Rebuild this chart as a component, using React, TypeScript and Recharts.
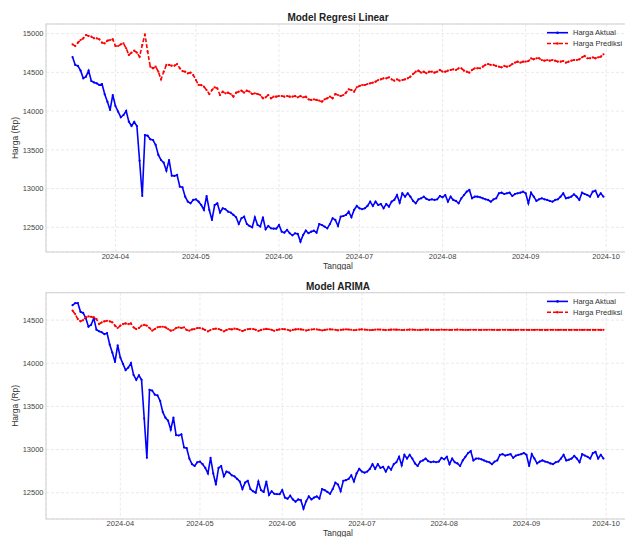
import React from 'react';
import { LineChart, Line, XAxis, YAxis, CartesianGrid } from 'recharts';

const FONT = '"Liberation Sans", Arial, Helvetica, sans-serif';

// ---- categories (dates) ----
const tanggalAwalArima = '2024-03-14';
const tanggalAwalRegresi = '2024-03-16';
const tickBulan = ['2024-04-01', '2024-05-01', '2024-06-01', '2024-07-01', '2024-08-01', '2024-09-01', '2024-10-01'];
const labelBulan = ['2024-04', '2024-05', '2024-06', '2024-07', '2024-08', '2024-09', '2024-10'];
const tickHargaRegresi = [12500, 13000, 13500, 14000, 14500, 15000];
const tickHargaArima = [12500, 13000, 13500, 14000, 14500];

// ---- series values (daily, from 2024-03-14 to 2024-09-30) ----
const hargaAktual = [
  14673, 14696,
  14698, 14596, 14583, 14522, 14423, 14445, 14522, 14389, 14370, 14359,
  14337, 14350, 14217, 14122, 14015, 14208, 14066, 13993, 13920, 13950,
  14002, 13864, 13808, 13860, 13808, 13360, 12904, 13692, 13683, 13636,
  13627, 13563, 13434, 13369, 13335, 13231, 13369, 13167, 13163, 13176,
  13025, 13016, 12896, 12831, 12810, 12853, 12861, 12831, 12788, 12724,
  12904, 12724, 12595, 12788, 12810, 12690, 12745, 12733, 12702, 12690,
  12660, 12630, 12543, 12617, 12638, 12543, 12517, 12500, 12630, 12530,
  12509, 12630, 12474, 12517, 12487, 12483, 12483, 12530, 12444, 12431,
  12466, 12423, 12397, 12423, 12414, 12315, 12401, 12457, 12423, 12444,
  12457, 12431, 12543,
  12530, 12509, 12487, 12543, 12617, 12595, 12517, 12638, 12646, 12660,
  12702, 12630, 12724, 12776, 12745, 12733, 12745, 12776, 12831, 12776,
  12831, 12788, 12801, 12745, 12801, 12767, 12831, 12853, 12917, 12818,
  12939, 12896, 12939, 12896, 12840, 12810, 12861, 12874, 12896, 12866,
  12853, 12861, 12853, 12861, 12904, 12887, 12917, 12831, 12896, 12853,
  12840, 12810, 12874, 12917, 12960, 12982, 12874, 12896, 12896, 12887,
  12874, 12861, 12853, 12831, 12861, 12874, 12939, 12947, 12930, 12939,
  12947, 12904, 12930, 12939, 12947, 12960, 12939, 12810, 12947, 12896,
  12840, 12861, 12874, 12861, 12853, 12840, 12831, 12853, 12861, 12896,
  12939, 12874, 12883, 12896, 12926, 12896, 12853, 12947, 12930, 12917,
  12896, 12960, 12973, 12896, 12939, 12896,
];

// Regresi Linear prediction (daily, from 2024-03-16)
const prediksiRegresi = [
  14862, 14841, 14884, 14918, 14940, 14983, 14970, 14961, 14940, 14940,
  14927, 14884, 14875, 14910, 14918, 14927, 14841, 14841, 14862, 14875,
  14811, 14725, 14755, 14781, 14755, 14703, 14854, 14991, 14768, 14574,
  14553, 14574, 14509, 14410, 14509, 14596, 14596, 14587, 14587, 14608,
  14553, 14518, 14509, 14488, 14497, 14466, 14402, 14337, 14337, 14316,
  14273, 14221, 14273, 14307, 14294, 14208, 14251, 14230, 14238, 14221,
  14187, 14238, 14251, 14264, 14238, 14264, 14251, 14221, 14230, 14221,
  14208, 14165, 14178, 14208, 14165, 14187, 14187, 14195, 14195, 14187,
  14195, 14187, 14187, 14195, 14178, 14195, 14178, 14187, 14152, 14144,
  14152, 14144, 14135,
  14122, 14152, 14165, 14187, 14165, 14221, 14208, 14195, 14208, 14238,
  14281, 14273, 14251, 14307, 14324, 14337, 14337, 14350, 14359, 14367,
  14380, 14402, 14410, 14423, 14423, 14436, 14410, 14393, 14410, 14393,
  14402, 14410, 14423, 14445, 14479, 14509, 14522, 14497, 14509, 14488,
  14509, 14509, 14497, 14509, 14531, 14509, 14509, 14522, 14531, 14540,
  14531, 14553, 14553, 14522, 14509, 14497, 14531, 14553, 14553, 14553,
  14574, 14596, 14608, 14596, 14596, 14583, 14574, 14565, 14583, 14574,
  14583, 14608, 14626, 14639, 14626, 14639, 14639, 14647, 14682, 14669,
  14682, 14682, 14660, 14651, 14660, 14651, 14660, 14651, 14639, 14639,
  14647, 14626, 14639, 14651, 14660, 14660, 14669, 14694, 14712, 14682,
  14682, 14694, 14682, 14694, 14703, 14733,
];

// ARIMA prediction (daily, from 2024-03-14)
const prediksiArima = [
  14610, 14569, 14512, 14485, 14500, 14531, 14542, 14538, 14531, 14512,
  14454, 14473, 14485, 14492, 14485, 14473, 14435, 14408, 14435, 14454,
  14462, 14454, 14462, 14416, 14396, 14408, 14435, 14446, 14435, 14408,
  14377, 14396, 14416, 14423, 14423, 14416, 14396, 14377, 14385, 14408,
  14416, 14408, 14416, 14385, 14377, 14392, 14396, 14408, 14408, 14400,
  14385, 14369, 14385, 14396, 14400, 14396, 14385, 14369, 14385, 14396,
  14392,
  14400, 14396, 14385, 14373, 14385, 14394, 14398,
  14396, 14388, 14374, 14386, 14393, 14397, 14394,
  14388, 14376, 14386, 14392, 14396, 14393, 14388,
  14377, 14386, 14392, 14395, 14392, 14388, 14379,
  14386, 14391, 14394, 14392, 14388, 14380, 14386,
  14391, 14393, 14391, 14388, 14381, 14386, 14390,
  14393, 14391, 14388, 14382, 14386, 14390, 14392,
  14390, 14388, 14383, 14386, 14389, 14391, 14390,
  14388, 14384, 14386, 14389, 14390, 14389, 14388,
  14385, 14386, 14388, 14390, 14389, 14388, 14385,
  14386, 14388, 14389, 14389, 14388, 14386, 14386,
  14388, 14389, 14388, 14388, 14386, 14387, 14388,
  14389, 14388, 14388, 14386, 14387, 14388, 14388,
  14388, 14387, 14386, 14387, 14388, 14388, 14388,
  14387, 14386, 14387, 14388, 14388, 14387, 14387,
  14386, 14387, 14388, 14388, 14387, 14387, 14386,
  14387, 14387, 14388, 14387, 14387, 14386, 14387,
  14387, 14388, 14387, 14387, 14387, 14387, 14387,
  14387, 14387, 14387, 14387, 14387, 14387, 14387,
  14387, 14387, 14387, 14387, 14387, 14387, 14387,
];

// ---- helpers ----
const DAY = 86400000;
const ORIGIN = Date.parse('2024-04-01');
const dayOf = (s: string) => Math.round((Date.parse(s) - ORIGIN) / DAY);

type Row = { d: number; aktual: number; prediksi: number };

function buildRows(start: string, aktual: number[], prediksi: number[]): Row[] {
  const d0 = dayOf(start);
  return aktual.map((v, i) => ({ d: d0 + i, aktual: v, prediksi: prediksi[i] }));
}

const rowsRegresi = buildRows(tanggalAwalRegresi, hargaAktual.slice(2), prediksiRegresi);
const rowsArima = buildRows(tanggalAwalArima, hargaAktual, prediksiArima);

const xTicks = tickBulan.map(dayOf);
const xLabelMap = new Map<number, string>(xTicks.map((d, i) => [d, labelBulan[i]]));

function pad(min: number, max: number): [number, number] {
  const r = max - min;
  return [min - 0.05 * r, max + 0.05 * r];
}

const CHART_W = 645;
const PLOT_LEFT = 46;
const PLOT_W = 584;
const X_AXIS_H = 18;

type PanelProps = {
  title: string;
  rows: Row[];
  yTicks: number[];
  top: number;
  height: number;
  marginTop: number;
};

function Panel({ title, rows, yTicks, top, height, marginTop }: PanelProps) {
  const plotH = height - marginTop - X_AXIS_H;
  const ds = rows.map((r) => r.d);
  const vals = rows.flatMap((r) => [r.aktual, r.prediksi]);
  const xDomain = pad(Math.min(...ds), Math.max(...ds));
  const yDomain = pad(Math.min(...vals), Math.max(...vals));
  const cx = PLOT_LEFT + PLOT_W / 2;
  const cy = marginTop + plotH / 2;
  const tickStyle = { fontSize: 7.5, fill: '#444', fontFamily: FONT };
  const legY1 = marginTop + 8.7;
  const legY2 = marginTop + 19.5;

  return (
    <div style={{ position: 'absolute', left: 0, top, width: CHART_W, height }}>
      <LineChart
        width={CHART_W}
        height={height}
        data={rows}
        margin={{ top: marginTop, right: CHART_W - PLOT_LEFT - PLOT_W, bottom: 0, left: 0 }}
      >
        <CartesianGrid stroke="#e4e4e4" strokeDasharray="3 2" strokeWidth={0.8} />
        <XAxis
          dataKey="d"
          type="number"
          domain={xDomain}
          allowDataOverflow
          ticks={xTicks}
          interval={0}
          tickFormatter={(v: number) => xLabelMap.get(v) ?? ''}
          height={X_AXIS_H}
          tickLine={false}
          axisLine={false}
          tickSize={0}
          tickMargin={2}
          tick={tickStyle}
        />
        <YAxis
          type="number"
          domain={yDomain}
          allowDataOverflow
          ticks={yTicks}
          interval={0}
          width={PLOT_LEFT}
          tickLine={false}
          axisLine={false}
          tickSize={0}
          tickMargin={2.5}
          tick={tickStyle}
        />
        <Line
          type="linear"
          dataKey="aktual"
          stroke="#0000ff"
          strokeWidth={1.6}
          dot={{ r: 1.1, fill: '#0000ff', stroke: 'none' }}
          activeDot={false}
          isAnimationActive={false}
        />
        <Line
          type="linear"
          dataKey="prediksi"
          stroke="#ff0000"
          strokeWidth={1.6}
          strokeDasharray="4 2"
          dot={{ r: 1.1, fill: '#ff0000', stroke: 'none', strokeDasharray: '' }}
          activeDot={false}
          isAnimationActive={false}
        />
      </LineChart>
      <svg
        width={CHART_W}
        height={height}
        style={{ position: 'absolute', left: 0, top: 0, pointerEvents: 'none' }}
        fontFamily={FONT}
      >
        <rect x={PLOT_LEFT} y={marginTop} width={PLOT_W} height={plotH} fill="none" stroke="#d0d0d0" strokeWidth={1} />
        <text x={cx} y={marginTop - 3} textAnchor="middle" fontSize={10} fontWeight="bold" fill="#222">
          {title}
        </text>
        <text x={cx} y={marginTop + plotH + 16.5} textAnchor="middle" fontSize={8.5} fill="#333">
          Tanggal
        </text>
        <text transform={`translate(18, ${cy}) rotate(-90)`} textAnchor="middle" fontSize={8.5} fill="#333">
          Harga (Rp)
        </text>
        <line x1={547} x2={568} y1={legY1} y2={legY1} stroke="#0000ff" strokeWidth={1.6} />
        <circle cx={557.5} cy={legY1} r={1.3} fill="#0000ff" />
        <text x={573} y={legY1 + 2.7} fontSize={7.5} fill="#333">
          Harga Aktual
        </text>
        <line x1={547} x2={568} y1={legY2} y2={legY2} stroke="#ff0000" strokeWidth={1.6} strokeDasharray="4 2" />
        <circle cx={557.5} cy={legY2} r={1.3} fill="#ff0000" />
        <text x={573} y={legY2 + 2.7} fontSize={7.5} fill="#333">
          Harga Prediksi
        </text>
      </svg>
    </div>
  );
}

export default function App() {
  return (
    <div
      style={{
        position: 'fixed',
        left: 0,
        top: 0,
        width: 625,
        height: 537,
        overflow: 'hidden',
        background: '#ffffff',
      }}
    >
      <Panel title="Model Regresi Linear" rows={rowsRegresi} yTicks={tickHargaRegresi} top={0} height={270} marginTop={24} />
      <Panel title="Model ARIMA" rows={rowsArima} yTicks={tickHargaArima} top={270} height={267} marginTop={22.7} />
    </div>
  );
}
